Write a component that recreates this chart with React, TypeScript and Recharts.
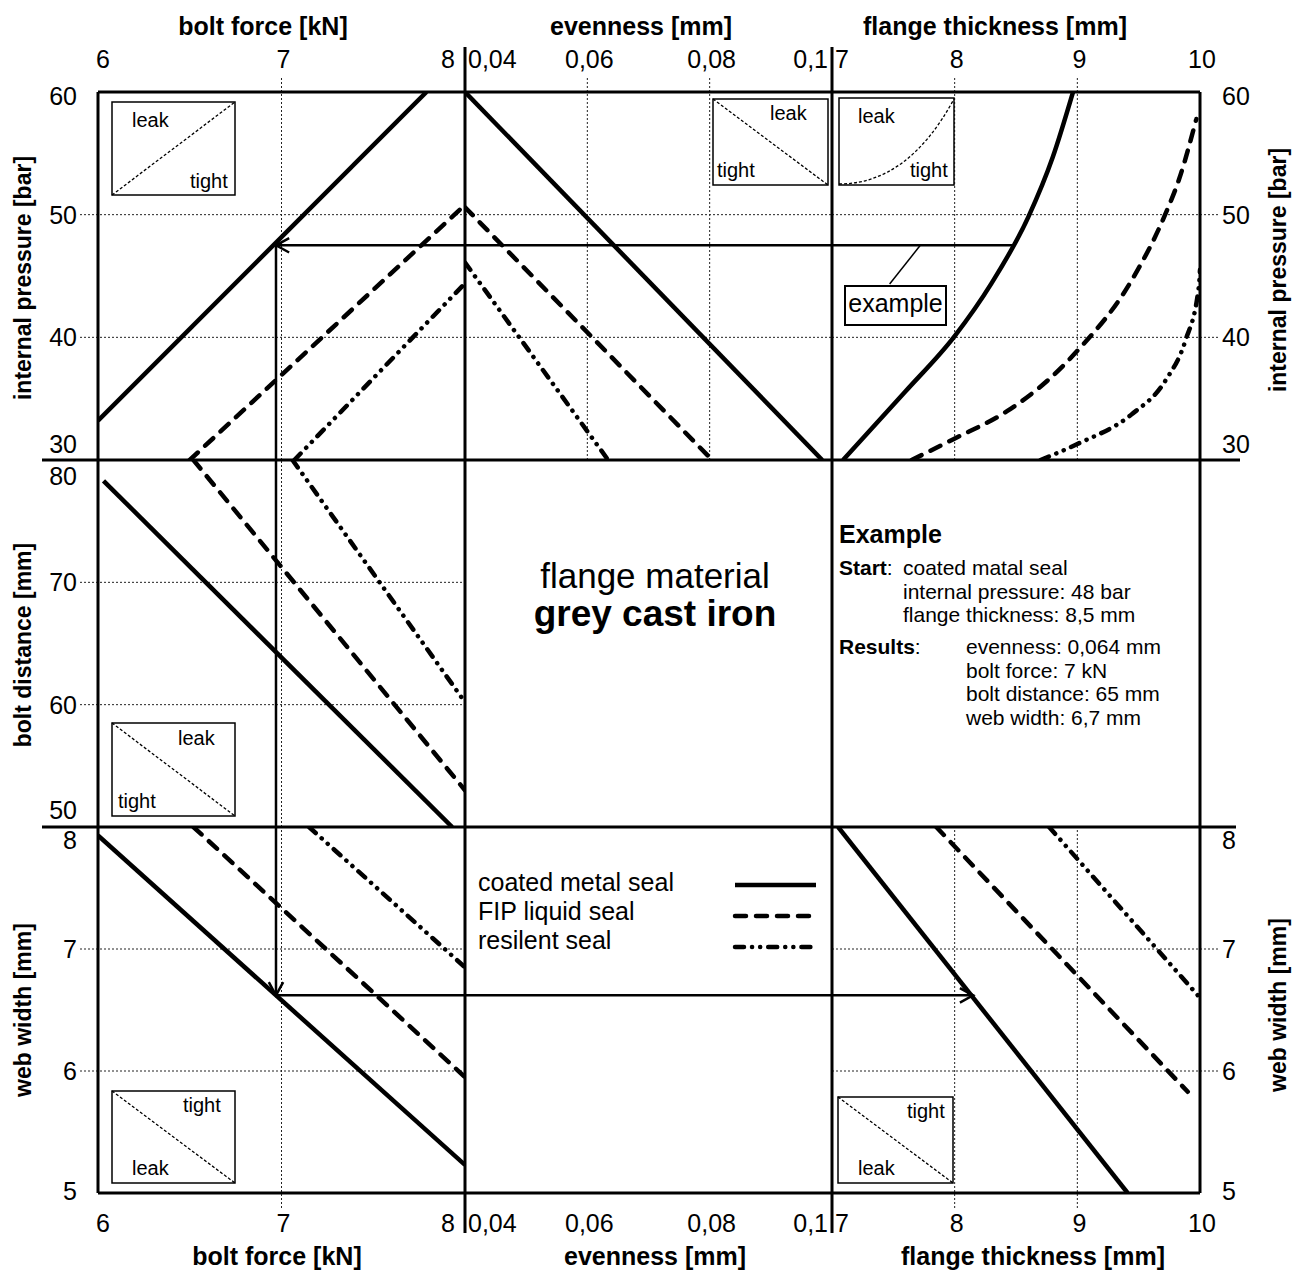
import React from 'react';
import { LineChart, Line, XAxis, YAxis, ReferenceLine } from 'recharts';

const FONT = '"Liberation Sans", Arial, Helvetica, sans-serif';
const PAGE_W = 1299;
const PAGE_H = 1273;

// panel edges (px) of the 3x3 nomogram
const COL_X = [98, 465, 832, 1200];
const ROW_Y = [92, 460, 827, 1193];

// axis scales
const boltForceDomain: [number, number] = [6, 8];
const boltForceTicks = [6, 7, 8];
const evennessDomain: [number, number] = [0.04, 0.1];
const evennessTicks = [0.04, 0.06, 0.08, 0.1];
const flangeDomain: [number, number] = [7, 10];
const flangeTicks = [7, 8, 9, 10];
const pressureDomain: [number, number] = [30, 60];
const pressureTicks = [30, 40, 50, 60];
const distanceDomain: [number, number] = [50, 80];
const distanceTicks = [50, 60, 70, 80];
const webDomain: [number, number] = [5, 8];
const webTicks = [5, 6, 7, 8];

// internal pressure [bar] against bolt force [kN]
const pressureBoltCoated = [{ x: 6, y: 33.2 }, { x: 7.79, y: 60 }];
const pressureBoltFip = [{ x: 6.5, y: 30 }, { x: 8, y: 50.8 }];
const pressureBoltResilient = [{ x: 7.07, y: 30 }, { x: 8, y: 44.4 }];

// internal pressure [bar] against evenness [mm]
const pressureEvenCoated = [{ x: 0.04, y: 60 }, { x: 0.0984, y: 30 }];
const pressureEvenFip = [{ x: 0.04, y: 50.6 }, { x: 0.0804, y: 30 }];
const pressureEvenResilient = [{ x: 0.04, y: 46.1 }, { x: 0.0634, y: 30 }];

// internal pressure [bar] against flange thickness [mm]
const pressureFlangeCoated = [
  { x: 7.09, y: 30 }, { x: 7.6, y: 35.6 }, { x: 8.0, y: 40.1 }, { x: 8.3, y: 44.4 },
  { x: 8.6, y: 49.8 }, { x: 8.8, y: 54.7 }, { x: 8.965, y: 60 },
];
const pressureFlangeFip = [
  { x: 7.65, y: 30 }, { x: 7.99, y: 31.7 }, { x: 8.43, y: 34.0 }, { x: 8.76, y: 36.5 },
  { x: 9.0, y: 38.9 }, { x: 9.44, y: 44.6 }, { x: 9.72, y: 50.1 }, { x: 9.83, y: 52.9 },
  { x: 9.97, y: 57.8 },
];
const pressureFlangeResilient = [
  { x: 8.7, y: 30 }, { x: 9.0, y: 31.3 }, { x: 9.44, y: 33.7 }, { x: 9.72, y: 36.5 },
  { x: 9.88, y: 39.7 }, { x: 9.99, y: 44.1 }, { x: 10, y: 45.5 },
];

// bolt distance [mm] against bolt force [kN]
const distanceBoltCoated = [{ x: 6.03, y: 78.3 }, { x: 7.93, y: 50 }];
const distanceBoltFip = [{ x: 6.52, y: 80 }, { x: 8, y: 53 }];
const distanceBoltResilient = [{ x: 7.06, y: 80 }, { x: 8, y: 60.2 }];

// web width [mm] against bolt force [kN] and flange thickness [mm]
const webBoltCoated = [{ x: 6, y: 7.93 }, { x: 8, y: 5.23 }];
const webBoltFip = [{ x: 6.52, y: 8 }, { x: 8, y: 5.95 }];
const webBoltResilient = [{ x: 7.15, y: 8 }, { x: 8, y: 6.85 }];
const webFlangeCoated = [{ x: 7.05, y: 8 }, { x: 9.41, y: 5 }];
const webFlangeFip = [{ x: 7.85, y: 8 }, { x: 9.9, y: 5.83 }];
const webFlangeResilient = [{ x: 8.77, y: 8 }, { x: 10, y: 6.6 }];

// worked example path
const examplePressure = 47.5;
const exampleFlange = 8.47;
const exampleBoltForce = 6.97;
const exampleWebWidth = 6.62;
const exampleFlangeResult = 8.15;

const legendNames = ['coated metal seal', 'FIP liquid seal', 'resilent seal'];
const startLines = ['coated matal seal', 'internal pressure: 48 bar', 'flange thickness: 8,5 mm'];
const resultLines = ['evenness: 0,064 mm', 'bolt force: 7 kN', 'bolt distance: 65 mm', 'web width: 6,7 mm'];

const SOLID = { stroke: '#000', strokeWidth: 4.5 };
const DASHED = { stroke: '#000', strokeWidth: 4.5, strokeDasharray: '11 10', strokeLinecap: 'round' as const };
const DASHDOT = { stroke: '#000', strokeWidth: 4.5, strokeDasharray: '9 8 0.1 8 0.1 8', strokeLinecap: 'round' as const };
const GRID = { stroke: '#222', strokeWidth: 1, strokeDasharray: '2 2' };

const fmt = (v: number) => String(v).replace('.', ',');

type Pt = { x: number; y: number };
type Anchor = 'start' | 'middle' | 'end';
type AxisSpec = {
  domain: [number, number];
  ticks: number[];
  first?: [Anchor, number];
  last?: [Anchor, number];
  lo?: number;
  hi?: number;
};

const boltAxis: AxisSpec = { domain: boltForceDomain, ticks: boltForceTicks, first: ['start', -2], last: ['end', -10] };
const evenAxis: AxisSpec = { domain: evennessDomain, ticks: evennessTicks, first: ['start', 3], last: ['end', -4] };
const flangeAxis: AxisSpec = { domain: flangeDomain, ticks: flangeTicks, first: ['start', 3], last: ['middle', 2] };
const pressureAxis: AxisSpec = { domain: pressureDomain, ticks: pressureTicks, lo: -16, hi: 4 };
const distanceAxis: AxisSpec = { domain: distanceDomain, ticks: distanceTicks, lo: -17, hi: 16 };
const webAxis: AxisSpec = { domain: webDomain, ticks: webTicks, lo: -2, hi: 13 };

const seal = (key: string, data: Pt[], style: object, curved = false) => (
  <Line
    key={key}
    data={data}
    dataKey="y"
    type={curved ? 'monotone' : 'linear'}
    dot={false}
    activeDot={false}
    isAnimationActive={false}
    {...style}
  />
);

// example path segment, optionally ending in an open arrow head
const ArrowShape = (head: boolean) => (props: any) => {
  const { x1, y1, x2, y2 } = props;
  const a = Math.atan2(y2 - y1, x2 - x1);
  const len = 15;
  const spread = 0.5;
  const h1 = `${x2 - len * Math.cos(a - spread)},${y2 - len * Math.sin(a - spread)}`;
  const h2 = `${x2 - len * Math.cos(a + spread)},${y2 - len * Math.sin(a + spread)}`;
  return (
    <g>
      <line x1={x1} y1={y1} x2={x2} y2={y2} stroke="#000" strokeWidth={2.5} />
      {head && <polyline points={`${h1} ${x2},${y2} ${h2}`} fill="none" stroke="#000" strokeWidth={2.5} />}
    </g>
  );
};

const path = (key: string, from: Pt, to: Pt, head = false, width?: number) => (
  <ReferenceLine
    key={key}
    segment={[from, to]}
    ifOverflow="visible"
    stroke="#000"
    strokeWidth={width ?? 2.5}
    shape={width ? undefined : ArrowShape(head)}
  />
);

type PanelProps = {
  col: number;
  row: number;
  xAxis: AxisSpec;
  yAxis: AxisSpec;
  showX: boolean;
  showY: boolean;
  xGrid?: number[];
  yGrid?: number[];
  children?: React.ReactNode;
};

function Panel({ col, row, xAxis, yAxis, showX, showY, xGrid = [], yGrid = [], children }: PanelProps) {
  const left = COL_X[col];
  const right = COL_X[col + 1];
  const top = ROW_Y[row];
  const bottom = ROW_Y[row + 1];
  const plotW = right - left;
  const plotH = bottom - top;
  const axH = showX ? (row === 0 ? top : PAGE_H - bottom) : 0;
  const axW = showY ? (col === 0 ? left : PAGE_W - right) : 0;
  const chartLeft = showY && col === 0 ? 0 : left;
  const chartTop = showX && row === 0 ? 0 : top;

  const [x0, x1] = xAxis.domain;
  const [y0, y1] = yAxis.domain;
  const perPxX = (x1 - x0) / plotW;
  const perPxY = (y1 - y0) / plotH;
  const stubTop = row === 0 ? 14 : 0;
  const stubBottom = row === 2 ? 15 : 0;
  const stubLeft = col === 0 ? 18 : 12;
  const stubRight = col === 2 ? 18 : 12;

  const renderXTick = (p: any) => {
    const v = p.payload.value;
    const [anchor, dx]: [Anchor, number] =
      v === x0 && xAxis.first ? xAxis.first : v === x1 && xAxis.last ? xAxis.last : ['middle', 2];
    return (
      <text x={p.x + dx} y={row === 0 ? p.y - 24 : p.y + 39} textAnchor={anchor}
        fontFamily={FONT} fontSize={25} fill="#000">
        {fmt(v)}
      </text>
    );
  };

  const renderYTick = (p: any) => {
    const v = p.payload.value;
    const dy = v === y0 ? yAxis.lo ?? 0 : v === y1 ? yAxis.hi ?? 0 : 0;
    return (
      <text x={col === 0 ? p.x - 21 : p.x + 22} y={p.y + dy + 9} textAnchor={col === 0 ? 'end' : 'start'}
        fontFamily={FONT} fontSize={25} fill="#000">
        {fmt(v)}
      </text>
    );
  };

  return (
    <div style={{ position: 'absolute', left: chartLeft, top: chartTop }}>
      <LineChart width={plotW + axW} height={plotH + axH} margin={{ top: 0, right: 0, bottom: 0, left: 0 }}>
        <XAxis
          type="number"
          dataKey="x"
          domain={xAxis.domain}
          ticks={xAxis.ticks}
          allowDataOverflow
          hide={!showX}
          orientation={row === 0 ? 'top' : 'bottom'}
          height={axH || 1}
          axisLine={false}
          tickLine={false}
          tickSize={0}
          tickMargin={0}
          interval={0}
          tick={renderXTick}
        />
        <YAxis
          type="number"
          domain={yAxis.domain}
          ticks={yAxis.ticks}
          allowDataOverflow
          hide={!showY}
          orientation={col === 0 ? 'left' : 'right'}
          width={axW || 1}
          axisLine={false}
          tickLine={false}
          tickSize={0}
          tickMargin={0}
          interval={0}
          tick={renderYTick}
        />
        {xGrid.map((v) => (
          <ReferenceLine
            key={`gx${v}`}
            segment={[{ x: v, y: y0 - stubBottom * perPxY }, { x: v, y: y1 + stubTop * perPxY }]}
            ifOverflow="visible"
            {...GRID}
          />
        ))}
        {yGrid.map((v) => (
          <ReferenceLine
            key={`gy${v}`}
            segment={[{ x: x0 - stubLeft * perPxX, y: v }, { x: x1 + stubRight * perPxX, y: v }]}
            ifOverflow="visible"
            {...GRID}
          />
        ))}
        {children}
      </LineChart>
    </div>
  );
}

type InsetSpec = {
  x: number; y: number; w: number; h: number;
  kind: 'up' | 'down' | 'curve';
  labels: { t: string; x: number; y: number }[];
};

// small leak/tight key boxes in the panel corners
const insets: InsetSpec[] = [
  { x: 112, y: 102, w: 123, h: 93, kind: 'up', labels: [{ t: 'leak', x: 132, y: 127 }, { t: 'tight', x: 190, y: 188 }] },
  { x: 713, y: 99, w: 115, h: 86, kind: 'down', labels: [{ t: 'leak', x: 770, y: 120 }, { t: 'tight', x: 717, y: 177 }] },
  { x: 839, y: 98, w: 115, h: 87, kind: 'curve', labels: [{ t: 'leak', x: 858, y: 123 }, { t: 'tight', x: 910, y: 177 }] },
  { x: 112, y: 723, w: 123, h: 93, kind: 'down', labels: [{ t: 'leak', x: 178, y: 745 }, { t: 'tight', x: 118, y: 808 }] },
  { x: 112, y: 1091, w: 123, h: 92, kind: 'down', labels: [{ t: 'tight', x: 183, y: 1112 }, { t: 'leak', x: 132, y: 1175 }] },
  { x: 838, y: 1097, w: 115, h: 86, kind: 'down', labels: [{ t: 'tight', x: 907, y: 1118 }, { t: 'leak', x: 858, y: 1175 }] },
];

function Inset({ s }: { s: InsetSpec }) {
  const { x, y, w, h } = s;
  const d =
    s.kind === 'up'
      ? `M${x} ${y + h} L${x + w} ${y}`
      : s.kind === 'down'
        ? `M${x} ${y} L${x + w} ${y + h}`
        : `M${x} ${y + h - 1} Q${x + w * 0.6} ${y + h - 1} ${x + w} ${y + 1}`;
  return (
    <g>
      <rect x={x} y={y} width={w} height={h} fill="none" stroke="#000" strokeWidth={1.5} />
      <path d={d} fill="none" stroke="#000" strokeWidth={1.3} strokeDasharray="3 2" />
      {s.labels.map((l) => (
        <text key={l.t} x={l.x} y={l.y} fontSize={20} fontFamily={FONT}>{l.t}</text>
      ))}
    </g>
  );
}

const title = (t: string, x: number, y: number, rotate = false) => (
  <text
    key={`${t}${x}${y}`}
    x={x}
    y={y}
    textAnchor="middle"
    fontFamily={FONT}
    fontSize={rotate ? 23 : 25}
    fontWeight="bold"
    transform={rotate ? `rotate(-90 ${x} ${y})` : undefined}
  >
    {t}
  </text>
);

function Overlay() {
  const legendStyles = [SOLID, DASHED, DASHDOT];
  return (
    <svg width={PAGE_W} height={PAGE_H} style={{ position: 'absolute', left: 0, top: 0, pointerEvents: 'none' }}>
      <g stroke="#000" strokeWidth={3}>
        <line x1={COL_X[0]} y1={ROW_Y[0]} x2={COL_X[3]} y2={ROW_Y[0]} />
        <line x1={COL_X[0]} y1={ROW_Y[3]} x2={COL_X[3]} y2={ROW_Y[3]} />
        <line x1={COL_X[0]} y1={ROW_Y[0]} x2={COL_X[0]} y2={ROW_Y[3]} />
        <line x1={COL_X[3]} y1={ROW_Y[0]} x2={COL_X[3]} y2={ROW_Y[3]} />
        <line x1={COL_X[1]} y1={47} x2={COL_X[1]} y2={1233} />
        <line x1={COL_X[2]} y1={47} x2={COL_X[2]} y2={1233} />
        <line x1={42} y1={ROW_Y[1]} x2={1240} y2={ROW_Y[1]} />
        <line x1={42} y1={ROW_Y[2]} x2={1236} y2={ROW_Y[2]} />
      </g>

      {title('bolt force [kN]', 263, 35)}
      {title('evenness [mm]', 641, 35)}
      {title('flange thickness [mm]', 995, 35)}
      {title('bolt force [kN]', 277, 1265)}
      {title('evenness [mm]', 655, 1265)}
      {title('flange thickness [mm]', 1033, 1265)}
      {title('internal pressure [bar]', 31, 278, true)}
      {title('bolt distance [mm]', 31, 645, true)}
      {title('web width [mm]', 31, 1010, true)}
      {title('internal pressure [bar]', 1286, 270, true)}
      {title('web width [mm]', 1286, 1005, true)}

      {insets.map((s, i) => <Inset key={i} s={s} />)}

      <rect x={845} y={286} width={101} height={39} fill="#fff" stroke="#000" strokeWidth={2} />
      <text x={895.5} y={312} textAnchor="middle" fontFamily={FONT} fontSize={25}>example</text>

      <text x={655} y={588} textAnchor="middle" fontFamily={FONT} fontSize={35}>flange material</text>
      <text x={655} y={626} textAnchor="middle" fontFamily={FONT} fontSize={37} fontWeight="bold">grey cast iron</text>

      <g fontFamily={FONT} fontSize={21}>
        <text x={839} y={543} fontSize={25} fontWeight="bold">Example</text>
        <text x={839} y={575}><tspan fontWeight="bold">Start</tspan>:</text>
        {startLines.map((t, i) => (
          <text key={t} x={903} y={575 + i * 23.5}>{t}</text>
        ))}
        <text x={839} y={654}><tspan fontWeight="bold">Results</tspan>:</text>
        {resultLines.map((t, i) => (
          <text key={t} x={966} y={654 + i * 23.5}>{t}</text>
        ))}
      </g>

      <g fontFamily={FONT} fontSize={25}>
        {legendNames.map((t, i) => (
          <g key={t}>
            <text x={478} y={891 + i * 29}>{t}</text>
            <line x1={735} x2={816} y1={885 + i * 31} y2={885 + i * 31} {...legendStyles[i]} />
          </g>
        ))}
      </g>
    </svg>
  );
}

export default function App() {
  return (
    <div style={{ position: 'absolute', left: 0, top: 0, width: PAGE_W, height: PAGE_H, background: '#fff', fontFamily: FONT }}>
      <Panel col={0} row={0} xAxis={boltAxis} yAxis={pressureAxis} showX showY xGrid={[7]} yGrid={[40, 50]}>
        {seal('c', pressureBoltCoated, SOLID)}
        {seal('f', pressureBoltFip, DASHED)}
        {seal('r', pressureBoltResilient, DASHDOT)}
        {path('h', { x: 8, y: examplePressure }, { x: exampleBoltForce, y: examplePressure }, true)}
        {path('v', { x: exampleBoltForce, y: examplePressure }, { x: exampleBoltForce, y: 30 })}
      </Panel>
      <Panel col={1} row={0} xAxis={evenAxis} yAxis={pressureAxis} showX showY={false} xGrid={[0.06, 0.08]} yGrid={[40, 50]}>
        {seal('c', pressureEvenCoated, SOLID)}
        {seal('f', pressureEvenFip, DASHED)}
        {seal('r', pressureEvenResilient, DASHDOT)}
        {path('h', { x: 0.1, y: examplePressure }, { x: 0.04, y: examplePressure })}
      </Panel>
      <Panel col={2} row={0} xAxis={flangeAxis} yAxis={pressureAxis} showX showY xGrid={[8, 9]} yGrid={[40, 50]}>
        {seal('c', pressureFlangeCoated, SOLID, true)}
        {seal('f', pressureFlangeFip, DASHED, true)}
        {seal('r', pressureFlangeResilient, DASHDOT, true)}
        {path('h', { x: exampleFlange, y: examplePressure }, { x: 7, y: examplePressure })}
        {path('lead', { x: 7.47, y: 44.35 }, { x: 7.72, y: examplePressure }, false, 1.5)}
      </Panel>
      <Panel col={0} row={1} xAxis={boltAxis} yAxis={distanceAxis} showX={false} showY xGrid={[7]} yGrid={[60, 70]}>
        {seal('c', distanceBoltCoated, SOLID)}
        {seal('f', distanceBoltFip, DASHED)}
        {seal('r', distanceBoltResilient, DASHDOT)}
        {path('v', { x: exampleBoltForce, y: 80 }, { x: exampleBoltForce, y: 50 })}
      </Panel>
      <Panel col={0} row={2} xAxis={boltAxis} yAxis={webAxis} showX showY xGrid={[7]} yGrid={[6, 7]}>
        {seal('c', webBoltCoated, SOLID)}
        {seal('f', webBoltFip, DASHED)}
        {seal('r', webBoltResilient, DASHDOT)}
        {path('v', { x: exampleBoltForce, y: 8 }, { x: exampleBoltForce, y: exampleWebWidth }, true)}
        {path('h', { x: exampleBoltForce, y: exampleWebWidth }, { x: 8, y: exampleWebWidth })}
      </Panel>
      <Panel col={1} row={2} xAxis={evenAxis} yAxis={webAxis} showX showY={false}>
        {path('h', { x: 0.04, y: exampleWebWidth }, { x: 0.1, y: exampleWebWidth })}
      </Panel>
      <Panel col={2} row={2} xAxis={flangeAxis} yAxis={webAxis} showX showY xGrid={[8, 9]} yGrid={[6, 7]}>
        {seal('c', webFlangeCoated, SOLID)}
        {seal('f', webFlangeFip, DASHED)}
        {seal('r', webFlangeResilient, DASHDOT)}
        {path('h', { x: 7, y: exampleWebWidth }, { x: exampleFlangeResult, y: exampleWebWidth }, true)}
      </Panel>
      <Overlay />
    </div>
  );
}
